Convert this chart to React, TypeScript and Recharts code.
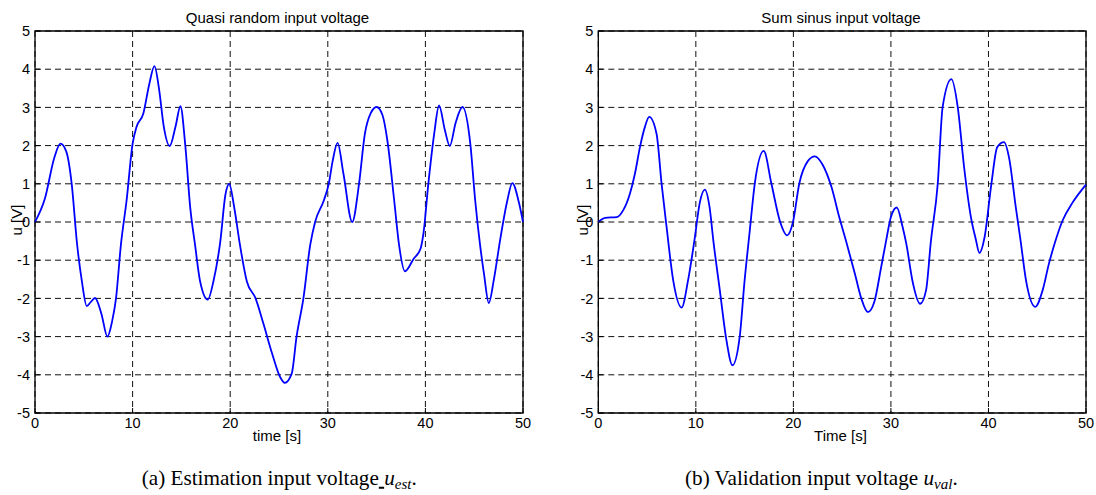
import React from 'react';
import { LineChart, Line, XAxis, YAxis, CartesianGrid, ReferenceArea } from 'recharts';

// axis ticks shared by both panels
const timeTicks = [0, 10, 20, 30, 40, 50];
const voltTicks = [-5, -4, -3, -2, -1, 0, 1, 2, 3, 4, 5];

// quasi random estimation input
const estTime = [
  0, 1.0, 2.0, 2.6, 3.2, 3.76, 4.3, 4.79, 5.3, 5.7, 6.15, 6.8, 7.42, 7.9, 8.3, 8.8, 9.4, 10.0, 10.4, 11.1,
  11.7, 12.24, 12.7, 13.2, 13.8, 14.4, 14.9, 15.4, 15.9, 16.4, 16.9, 17.7, 18.3, 19.0, 19.5, 19.9, 20.4,
  21.0, 21.7, 22.6, 23.4, 24.3, 25.1, 25.6, 26.3, 26.8, 27.5, 28.2, 28.7, 29.6, 30.1, 30.5, 31.0, 31.6,
  32.5, 33.2, 33.8, 34.4, 35.0, 35.6, 36.1, 36.8, 37.3, 37.9, 38.8, 39.5, 39.8, 40.3, 40.9, 41.4, 42.0,
  42.5, 43.1, 43.8, 44.6, 45.1, 45.6, 46.0, 46.5, 47.0, 47.7, 48.4, 48.9, 49.6, 50,
];
const estVolt = [
  0, 0.6, 1.7, 2.05, 1.85, 1.0, -0.55, -1.53, -2.2, -2.1, -1.99, -2.4, -3.0, -2.6, -2.0, -0.6, 0.6, 2.05, 2.49, 2.84,
  3.6, 4.08, 3.5, 2.49, 1.99, 2.5, 3.03, 2.0, 0.39, -0.6, -1.53, -2.03, -1.53, -0.48, 0.7, 1.0, 0.4,
  -0.6, -1.55, -2.0, -2.66, -3.45, -4.05, -4.21, -3.97, -3.0, -2.0, -0.6, 0.0, 0.57, 1.0, 1.6, 2.07, 1.27,
  0.0, 1.0, 2.31, 2.85, 3.01, 2.8, 2.14, 0.57, -0.6, -1.29, -0.96, -0.7, -0.3, 1.0, 2.31, 3.05, 2.4,
  1.99, 2.6, 3.01, 2.05, 0.57, -0.6, -1.35, -2.12, -1.53, -0.4, 0.57, 1.02, 0.49, 0,
];

// sum of sines validation input
const valTime = [
  0, 0.7, 1.9, 2.56, 3.24, 3.76, 4.27, 4.78, 5.22, 5.97, 6.49, 7.0, 7.68, 8.54, 9.2, 9.9, 10.4, 10.92, 11.4,
  11.8, 12.46, 13.14, 13.75, 14.5, 15.0, 15.5, 16.04, 16.96, 17.75, 18.6, 19.35, 19.96, 20.6, 21.5, 22.2,
  23.0, 23.9, 24.7, 25.4, 26.3, 26.96, 27.64, 28.3, 29.0, 29.5, 30.0, 30.6, 31.2, 31.6, 32.2, 33.0, 33.6,
  34.1, 34.8, 35.3, 36.2, 36.85, 37.5, 38.2, 38.7, 39.07, 39.6, 40.3, 40.9, 41.6, 42.1, 42.8, 43.3, 43.85,
  44.8, 45.55, 46.2, 46.8, 47.6, 48.6, 50,
];
const valVolt = [
  0, 0.11, 0.13, 0.31, 0.74, 1.27, 1.96, 2.49, 2.75, 2.31, 1.0, -0.13, -1.53, -2.24, -1.53, -0.4, 0.5, 0.85, 0.4,
  -0.5, -1.79, -3.1, -3.75, -3.0, -1.53, -0.3, 1.0, 1.86, 1.0, 0.04, -0.35, 0.0, 1.0, 1.6, 1.72,
  1.5, 0.92, 0.13, -0.5, -1.35, -2.0, -2.36, -2.09, -1.18, -0.5, 0.13, 0.38, -0.13, -0.6, -1.53, -2.14, -1.79,
  -0.5, 1.0, 3.01, 3.74, 3.01, 1.44, 0.13, -0.45, -0.81, -0.4, 1.0, 1.96, 2.09, 1.7, 0.39, -0.5, -1.53,
  -2.22, -1.79, -1.09, -0.55, 0.04, 0.5, 0.98,
];

const estData = estTime.map((t, i) => ({ t, u: estVolt[i] }));
const valData = valTime.map((t, i) => ({ t, u: valVolt[i] }));

const sans = '"Liberation Sans", Arial, sans-serif';
const serif = '"Liberation Serif", "Times New Roman", serif';

const tickFont = { fill: '#000', fontSize: 14.5, fontFamily: sans };
const tickMark = { stroke: '#000', strokeWidth: 1 };

const centered = (x: number, y: number): React.CSSProperties => ({
  position: 'absolute',
  left: x,
  top: y,
  transform: 'translate(-50%, -50%)',
  whiteSpace: 'nowrap',
  lineHeight: 1,
});

// captions are placed by their left edge
const caption = (x: number, y: number): React.CSSProperties => ({
  position: 'absolute',
  left: x,
  top: y,
  transform: 'translateY(-50%)',
  whiteSpace: 'nowrap',
  lineHeight: 1,
  fontFamily: serif,
  fontSize: 21.2,
});

interface PanelProps {
  data: { t: number; u: number }[];
  left: number;
  width: number;
  marginLeft: number;
  marginRight: number;
}

// matlab style box: labels on bottom/left, short inward ticks on all four sides
const Panel: React.FC<PanelProps> = ({ data, left, width, marginLeft, marginRight }) => (
  <div style={{ position: 'absolute', left, top: 0 }}>
    <LineChart
      width={width}
      height={450}
      data={data}
      margin={{ top: 31, right: marginRight, bottom: 17, left: marginLeft }}
    >
      <CartesianGrid stroke="#111" strokeDasharray="6 4" strokeWidth={1} />
      <XAxis
        dataKey="t"
        type="number"
        domain={[0, 50]}
        ticks={timeTicks}
        interval={0}
        height={20}
        axisLine={false}
        tickLine={tickMark}
        tickSize={-5}
        tickMargin={10}
        tick={tickFont}
      />
      <XAxis
        xAxisId="top"
        orientation="top"
        dataKey="t"
        type="number"
        domain={[0, 50]}
        ticks={timeTicks}
        interval={0}
        height={0}
        axisLine={false}
        tickLine={tickMark}
        tickSize={-5}
        tick={false}
      />
      <YAxis
        type="number"
        domain={[-5, 5]}
        ticks={voltTicks}
        interval={0}
        width={30}
        axisLine={false}
        tickLine={tickMark}
        tickSize={-5}
        tickMargin={10}
        tick={tickFont}
      />
      <YAxis
        yAxisId="right"
        orientation="right"
        type="number"
        domain={[-5, 5]}
        ticks={voltTicks}
        interval={0}
        width={0}
        axisLine={false}
        tickLine={tickMark}
        tickSize={-5}
        tick={false}
      />
      <ReferenceArea x1={0} x2={50} y1={-5} y2={5} fill="none" fillOpacity={0} stroke="#000" strokeWidth={1.3} />
      <Line
        type="monotone"
        dataKey="u"
        stroke="#0000ff"
        strokeWidth={1.8}
        dot={false}
        activeDot={false}
        isAnimationActive={false}
      />
    </LineChart>
  </div>
);

const subStyle: React.CSSProperties = { fontSize: 15, fontStyle: 'italic', verticalAlign: '-0.3em' };

export default function App() {
  return (
    <div
      style={{
        position: 'absolute',
        left: 0,
        top: 0,
        width: 1096,
        height: 495,
        background: '#fff',
        fontFamily: sans,
        color: '#000',
      }}
    >
      <Panel data={estData} left={0} width={540} marginLeft={5} marginRight={17} />
      <Panel data={valData} left={550} width={546} marginLeft={18.3} marginRight={10} />

      <div style={{ ...centered(277.5, 16.5), fontSize: 15 }}>Quasi random input voltage</div>
      <div style={{ ...centered(841, 16.5), fontSize: 15 }}>Sum sinus input voltage</div>

      <div style={{ ...centered(277, 435), fontSize: 15 }}>time [s]</div>
      <div style={{ ...centered(840.5, 435), fontSize: 15 }}>Time [s]</div>

      <div style={{ ...centered(16, 220), fontSize: 15, transform: 'translate(-50%, -50%) rotate(-90deg)' }}>u [V]</div>
      <div style={{ ...centered(582, 220), fontSize: 15, transform: 'translate(-50%, -50%) rotate(-90deg)' }}>u [V]</div>

      <div style={caption(141.7, 480)}>
        (a) Estimation input voltage<span style={{ textDecoration: 'underline' }}> </span>
        <i>u</i>
        <span style={subStyle}>est</span>.
      </div>
      <div style={caption(685, 480)}>
        (b) Validation input voltage <i>u</i>
        <span style={subStyle}>val</span>.
      </div>
    </div>
  );
}
